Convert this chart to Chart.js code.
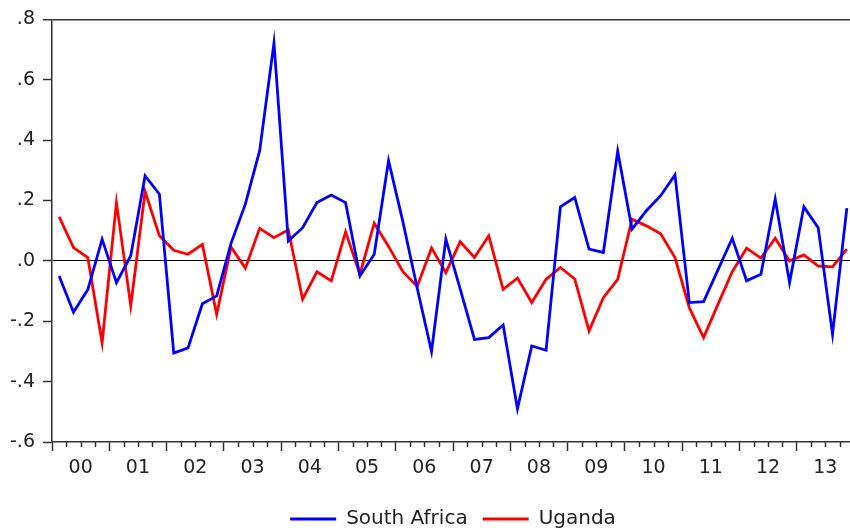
<!DOCTYPE html>
<html>
<head>
<meta charset="utf-8">
<script src="https://cdn.jsdelivr.net/npm/chart.js@4.4.1/dist/chart.umd.min.js"></script>
<style>
  html, body { margin: 0; padding: 0; background: #ffffff; overflow: hidden; width: 850px; height: 532px; }
  #wrap { position: absolute; left: 0; top: 0; width: 860px; height: 540px; }
</style>
</head>
<body>
<div id="wrap"><canvas id="c" width="860" height="540"></canvas></div>
<script>
// Year tick labels (one per year, 2000-2013)
const yearLabels = ['00','01','02','03','04','05','06','07','08','09','10','11','12','13'];
// Quarterly observations 2000Q1 - 2013Q4
const quarters = [
  '2000Q1','2000Q2','2000Q3','2000Q4','2001Q1','2001Q2','2001Q3','2001Q4',
  '2002Q1','2002Q2','2002Q3','2002Q4','2003Q1','2003Q2','2003Q3','2003Q4',
  '2004Q1','2004Q2','2004Q3','2004Q4','2005Q1','2005Q2','2005Q3','2005Q4',
  '2006Q1','2006Q2','2006Q3','2006Q4','2007Q1','2007Q2','2007Q3','2007Q4',
  '2008Q1','2008Q2','2008Q3','2008Q4','2009Q1','2009Q2','2009Q3','2009Q4',
  '2010Q1','2010Q2','2010Q3','2010Q4','2011Q1','2011Q2','2011Q3','2011Q4',
  '2012Q1','2012Q2','2012Q3','2012Q4','2013Q1','2013Q2','2013Q3','2013Q4'
];
const southAfrica = [
  -0.05, -0.17, -0.095, 0.072, -0.072, 0.017, 0.282, 0.221,
  -0.305, -0.288, -0.142, -0.116, 0.058, 0.188, 0.365, 0.722,
  0.066, 0.11, 0.193, 0.218, 0.193, -0.05, 0.022, 0.332,
  0.13, -0.09, -0.30, 0.072, -0.093, -0.26, -0.254, -0.212,
  -0.49, -0.282, -0.296, 0.179, 0.21, 0.039, 0.028, 0.363,
  0.105, 0.166, 0.216, 0.285, -0.138, -0.135, -0.03, 0.075,
  -0.066, -0.044, 0.205, -0.072, 0.179, 0.11, -0.243, 0.175
];
const uganda = [
  0.146, 0.044, 0.011, -0.271, 0.193, -0.149, 0.23, 0.083,
  0.035, 0.022, 0.055, -0.177, 0.046, -0.024, 0.108, 0.077,
  0.103, -0.127, -0.036, -0.066, 0.096, -0.044, 0.125, 0.048,
  -0.036, -0.085, 0.043, -0.039, 0.063, 0.011, 0.083, -0.094,
  -0.057, -0.138, -0.061, -0.022, -0.06, -0.232, -0.122, -0.061,
  0.138, 0.116, 0.09, 0.011, -0.155, -0.254, -0.144, -0.036,
  0.042, 0.009, 0.075, 0.0, 0.02, -0.017, -0.02, 0.039
];
const seriesNames = ['South Africa', 'Uganda'];
const yTickValues = [-0.6, -0.4, -0.2, 0.0, 0.2, 0.4, 0.6, 0.8];

const FONT = 'DejaVu Sans';
const AXIS = '#333333';

// each quarter occupies one unit on the x scale; the observation sits mid-quarter
const toPoints = arr => arr.map((v, i) => ({ x: i + 0.5, y: v, q: quarters[i] }));

const minorTicks = {
  id: 'minorTicks',
  afterDraw(chart) {
    const xs = chart.scales.x;
    const ctx = chart.ctx;
    const y0 = chart.chartArea.bottom;
    ctx.save();
    ctx.strokeStyle = AXIS;
    ctx.lineWidth = 1.5;
    xs.ticks.forEach(t => {
      if (Math.round(t.value) % 4 !== 0) {
        const px = Math.round(xs.getPixelForValue(t.value)) + 0.5;
        ctx.beginPath();
        ctx.moveTo(px, y0);
        ctx.lineTo(px, y0 + 5);
        ctx.stroke();
      }
    });
    ctx.restore();
  }
};

new Chart(document.getElementById('c'), {
  type: 'line',
  data: {
    datasets: [
      { label: seriesNames[0], data: toPoints(southAfrica), borderColor: '#0000ff', backgroundColor: '#0000ff',
        borderWidth: 2.8, pointRadius: 0, tension: 0, fill: false },
      { label: seriesNames[1], data: toPoints(uganda), borderColor: '#ff0000', backgroundColor: '#ff0000',
        borderWidth: 2.8, pointRadius: 0, tension: 0, fill: false }
    ]
  },
  options: {
    responsive: false,
    animation: false,
    events: [],
    layout: { padding: { top: 19, right: 1, bottom: 1, left: 0 } },
    plugins: {
      tooltip: { enabled: false },
      legend: {
        position: 'bottom',
        fullSize: false,
        align: 'center',
        labels: {
          usePointStyle: true,
          pointStyle: 'line',
          pointStyleWidth: 46,
          padding: 15,
          color: '#222222',
          font: { family: FONT, size: 20 }
        }
      }
    },
    scales: {
      x: {
        type: 'linear',
        min: 0,
        max: yearLabels.length * 4,
        afterBuildTicks: scale => {
          scale.ticks = [];
          for (let i = 0; i <= yearLabels.length * 4; i++) scale.ticks.push({ value: i });
        },
        afterFit: scale => { scale.height = 52; },
        ticks: {
          autoSkip: false,
          maxRotation: 0,
          padding: 6,
          color: '#222222',
          font: { family: FONT, size: 19 },
          callback: v => (Math.round(v) % 4 === 2 ? yearLabels[Math.floor(v / 4)] : '')
        },
        grid: {
          drawOnChartArea: false,
          drawTicks: true,
          tickLength: 9,
          tickWidth: 1.5,
          tickColor: ctx => (ctx.tick && Math.round(ctx.tick.value) % 4 === 0 ? AXIS : 'rgba(0,0,0,0)')
        },
        border: { display: true, color: AXIS, width: 1.5 }
      },
      y: {
        min: -0.6,
        max: 0.8,
        afterBuildTicks: scale => { scale.ticks = yTickValues.map(v => ({ value: v })); },
        afterFit: scale => { scale.width = 52; },
        ticks: {
          padding: 8,
          color: '#222222',
          font: { family: FONT, size: 19 },
          callback: v => {
            const r = Math.round(v * 10) / 10;
            const s = Math.abs(r).toFixed(1).replace(/^0/, '');
            return (r < 0 ? '-' : '') + s;
          }
        },
        grid: {
          drawOnChartArea: true,
          drawTicks: true,
          tickLength: 9,
          tickWidth: 1.5,
          tickColor: AXIS,
          color: ctx => {
            if (!ctx.tick) return 'rgba(0,0,0,0)';
            const v = Math.round(ctx.tick.value * 10) / 10;
            if (v === 0) return '#000000';
            if (v === 0.8) return AXIS;
            return 'rgba(0,0,0,0)';
          },
          lineWidth: ctx => (ctx.tick && Math.round(ctx.tick.value * 10) / 10 === 0.8 ? 1.5 : 1)
        },
        border: { display: true, color: AXIS, width: 1.5 }
      }
    }
  },
  plugins: [minorTicks]
});
</script>
</body>
</html>
